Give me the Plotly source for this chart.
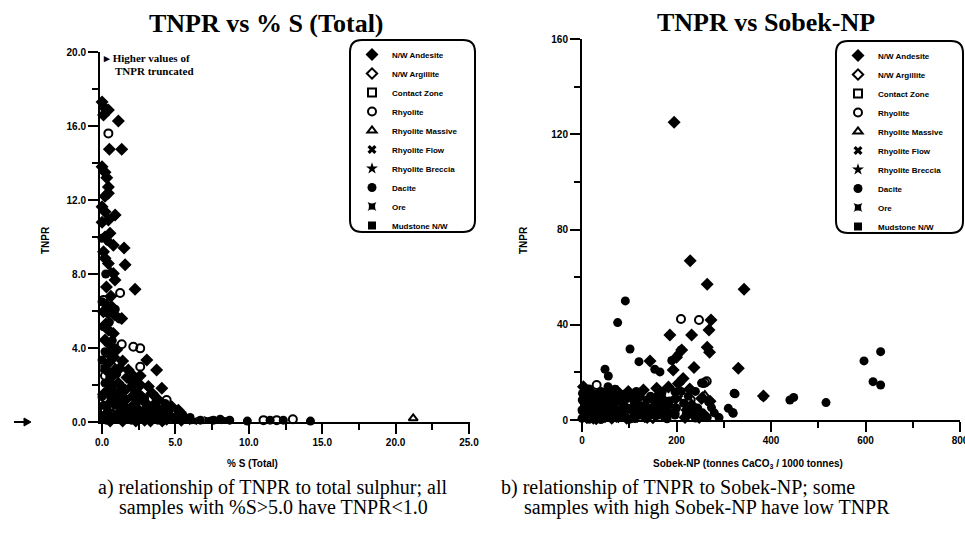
import plotly.graph_objects as go

W, H = 965, 548

# ---------------- data ----------------
CATEGORIES = ["N/W Andesite", "N/W Argillite", "Contact Zone", "Rhyolite", "Rhyolite Massive",
              "Rhyolite Flow", "Rhyolite Breccia", "Dacite", "Ore", "Mudstone N/W"]

# Left: % S (Total) vs TNPR
S_ANDESITE = [(0.0, 17.3), (0.2, 16.96), (0.43, 16.86), (0.1, 16.6), (1.11, 16.27), (0.5, 14.74), (1.34, 14.74),
              (0.0, 13.8), (0.2, 13.5), (0.32, 13.2), (0.43, 12.7), (0.43, 12.36), (0.2, 12.2), (0.0, 11.64),
              (0.2, 11.36), (0.89, 11.19), (0.43, 10.92), (0.0, 10.8), (0.54, 10.2), (0.2, 10.0), (0.77, 9.56),
              (1.57, 8.5), (1.5, 9.4), (0.2, 8.85), (0.43, 8.57), (0.77, 8.03), (0.88, 7.67), (2.25, 7.17),
              (0.32, 6.32), (0.66, 6.23), (0.09, 5.96), (0.43, 5.87), (0.88, 5.78), (0.43, 4.97), (0.77, 4.79),
              (0.2, 4.43), (0.54, 4.16), (0.43, 3.7), (1.34, 5.6), (3.05, 3.35), (3.72, 2.81), (2.3, 2.2),
              (4.07, 1.82), (0.43, 3.17), (0.88, 2.81), (1.79, 2.81), (1.11, 2.1), (0.66, 2.45), (0.43, 1.73),
              (0.88, 1.55), (1.57, 1.73), (2.02, 1.92), (2.25, 2.1), (3.16, 1.92), (2.7, 1.37), (3.4, 1.55),
              (3.84, 1.19), (4.75, 0.83), (5.2, 0.64), (1.0, 1.0), (1.5, 0.83), (2.5, 0.64), (3.0, 1.0),
              (3.5, 0.9), (4.2, 0.45), (4.6, 0.36), (0.6, 0.27), (0.3, 0.45), (1.2, 0.5), (1.8, 0.3),
              (2.8, 0.55), (3.3, 0.6), (3.9, 0.4), (5.0, 0.25), (0.1, 1.5), (0.7, 2.0), (1.6, 1.2), (2.1, 1.4),
              (0.3, 7.3), (0.1, 9.2), (0.6, 6.8), (0.25, 5.3), (1.0, 3.9), (1.4, 3.3), (2.0, 2.6), (2.6, 2.0),
              (1.2, 2.9), (1.7, 2.4), (2.6, 2.5), (0.3, 2.8), (0.8, 3.5), (1.1, 0.25), (2.0, 0.8), (2.9, 0.1),
              (3.7, 0.7), (4.4, 0.15), (5.4, 0.1), (0.55, 0.05), (1.4, 0.05), (2.3, 0.05), (3.3, 0.05), (4.1, 0.05)]
S_ARGILLITE = [(0.7, 3.0), (1.9, 1.1)]
S_CONTACT = [(0.2, 0.55), (2.8, 0.9)]
S_RHYOLITE = [(0.43, 15.6), (1.23, 6.97), (1.34, 4.2), (2.13, 4.07), (2.6, 3.98), (2.6, 2.99), (4.4, 1.19),
              (0.32, 3.35), (1.22, 5.59), (0.2, 2.5), (11.0, 0.1), (11.9, 0.1), (13.0, 0.15), (0.1, 0.3),
              (1.8, 0.2), (3.5, 0.5), (0.1, 6.6)]
S_MASSIVE = [(21.2, 0.2), (0.6, 8.1), (5.8, 0.1), (3.2, 0.35)]
S_FLOW = [(0.9, 0.5), (2.2, 0.7)]
S_BRECCIA = [(0.3, 0.8), (1.4, 0.15)]
S_DACITE = [(0.0, 6.5), (0.43, 9.75), (0.2, 10.0), (0.0, 9.93), (0.1, 5.15), (0.0, 3.35), (0.2, 2.1),
            (0.0, 1.37), (0.5, 1.0), (1.5, 0.4), (2.5, 0.3), (3.0, 0.2), (4.0, 0.25), (5.65, 0.2), (6.7, 0.1),
            (7.6, 0.1), (8.05, 0.15), (8.7, 0.1), (9.9, 0.05), (11.45, 0.1), (12.35, 0.1), (14.2, 0.05),
            (0.3, 0.1), (0.8, 0.2), (2.0, 0.1), (3.8, 0.1), (4.9, 0.2), (1.1, 1.6),
            (0.5, 2.3), (1.0, 2.6), (1.3, 1.9), (1.9, 2.3), (2.4, 1.6), (2.9, 1.3), (3.6, 1.4), (4.3, 1.0),
            (4.0, 0.7), (3.4, 0.3), (2.7, 0.2), (2.2, 0.5), (1.6, 0.7), (0.9, 0.9), (0.4, 0.6), (0.1, 0.9),
            (0.6, 1.3), (1.3, 1.3), (2.4, 1.1), (3.1, 0.75), (4.5, 0.6), (5.5, 0.4), (6.0, 0.25), (0.2, 3.8),
            (0.7, 4.4), (0.5, 5.4), (0.9, 6.1), (0.25, 8.0)]
S_ORE = [(6.2, 0.05), (7.2, 0.1), (8.4, 0.1)]
S_MUDSTONE = [(0.05, 0.2), (0.15, 2.9)]

# Right: Sobek-NP vs TNPR
N_ANDESITE = [(195, 125), (229, 66.9), (265, 57), (343, 54.9), (273, 42), (268.8, 37.8), (186, 35.7), (232, 35.7),
              (265, 30.6), (270, 28.5), (143.9, 24.8), (237, 22), (330.8, 21.7), (384, 10.1), (211, 29.4),
              (200, 26.3), (193, 21), (214, 17.4), (204, 15.3), (183, 13.9), (130, 12.6), (158, 13.3),
              (165, 10.5), (172, 8.4), (161, 6.3), (232, 6.3), (222, 4.2), (91, 5.6), (105, 4.2), (112, 6.3),
              (13.4, 10.5), (27.5, 7), (41.6, 9.1), (55.7, 10.5), (69.8, 7.7), (55.7, 4.2), (34.6, 2.8),
              (20.5, 4.2), (13.4, 6.3), (77, 1.4), (94.5, 0.7), (48.7, 1.4), (112, 1.4), (133, 1.4), (154, 2.1),
              (24, 0.7), (63, 0.7), (271, 7.9), (253, 9), (5, 3), (10, 1), (30, 0.5), (45, 5), (80, 3),
              (120, 3.5), (140, 4.5), (176, 5.6), (183, 3.5), (60, 8), (75, 12),
              (8, 9), (18, 2), (38, 3), (52, 12), (68, 10), (88, 4), (98, 12), (118, 9), (138, 1), (155, 9),
              (168, 3), (198, 9), (218, 1), (228, 13), (248, 1), (62, 5), (73, 1.5), (22, 11), (3, 14)]
N_ARGILLITE = [(150, 1.0), (35, 9.5)]
N_CONTACT = [(85, 2.0)]
N_RHYOLITE = [(31, 14.7), (209.5, 42.4), (247.6, 42), (260, 15.7), (269, 7.7), (264, 16.3), (20, 6),
              (100, 3), (170, 3.5), (230, 8.5)]
N_MASSIVE = [(255.7, 9.8), (260, 10.4)]
N_FLOW = [(150, 7), (205, 9)]
N_BRECCIA = [(50, 3), (190, 6)]
N_DACITE = [(91.7, 50), (75.5, 40.9), (101.6, 29.8), (209.5, 29.4), (203, 27.2), (190, 25), (120.6, 24.5),
            (154, 21.3), (165, 20.2), (48.7, 21.3), (55.7, 18.5), (383.7, 9.8), (440, 8.4), (448, 9.5),
            (516.4, 7.3), (596.8, 24.8), (632, 28.7), (616, 16.1), (632, 14.7), (322, 11.2), (309.7, 4.9),
            (319, 3.2), (196.8, 2.1), (221, 2.8), (235, 2.8), (253, 15.5), (69.8, 12.9), (91, 10.9),
            (126, 11.9), (123, 10.5), (137, 8.4), (197, 11.8), (257, 15.3), (274, 5.2), (236, 2.8), (197, 2.8),
            (148, 2.8), (0.5, 8.4), (0, 4.2), (6.3, 2.1), (1, 11.2), (0, 0.7), (320, 2.8), (324, 11), (15, 0.3),
            (40, 0.2), (100, 0.3), (180, 0.5), (240, 0.8), (260, 2.0),
            (10, 5), (25, 9), (40, 12), (55, 14), (65, 3), (85, 7), (95, 9), (110, 8), (120, 2), (135, 5),
            (145, 10), (160, 2), (175, 1), (190, 3), (200, 5), (210, 12), (215, 7), (225, 10), (245, 5),
            (255, 3), (265, 1), (15, 13), (35, 5), (50, 7), (70, 5), (90, 2), (105, 10), (125, 6), (150, 4),
            (170, 12), (185, 8), (5, 7), (30, 11), (45, 1), (60, 2), (80, 10), (115, 12), (240, 12), (280, 3),
            (290, 1)]
N_ORE = [(70, 1.0)]
N_MUDSTONE = [(110, 0.5)]

LEFT_SERIES = [S_ANDESITE, S_ARGILLITE, S_CONTACT, S_RHYOLITE, S_MASSIVE, S_FLOW, S_BRECCIA, S_DACITE, S_ORE, S_MUDSTONE]
RIGHT_SERIES = [N_ANDESITE, N_ARGILLITE, N_CONTACT, N_RHYOLITE, N_MASSIVE, N_FLOW, N_BRECCIA, N_DACITE, N_ORE, N_MUDSTONE]

LEFT_XTICKS = [0, 5, 10, 15, 20, 25]
LEFT_XTICKTEXT = ["0.0", "5.0", "10.0", "15.0", "20.0", "25.0"]
LEFT_YTICKS = [0, 4, 8, 12, 16, 20]
LEFT_YTICKTEXT = ["0.0", "4.0", "8.0", "12.0", "16.0", "20.0"]
RIGHT_XTICKS = [0, 200, 400, 600, 800]
RIGHT_YTICKS = [0, 40, 80, 120, 160]

# ---------------- styling ----------------
SYMBOLS = ["diamond", "diamond-open", "square-open", "circle-open", "triangle-up-open",
           "x", "star", "circle", "star-square", "square"]
SIZES = [10, 8, 8, 8, 8, 8, 9, 9, 8, 8]

def px_x(p):
    return p / W

def px_y(p):
    return 1 - p / H

fig = go.Figure()

for i, name in enumerate(CATEGORIES):
    for series, xa, ya, lg in [(LEFT_SERIES[i], "x", "y", "legend"), (RIGHT_SERIES[i], "x2", "y2", "legend2")]:
        xs = [p[0] for p in series]
        ys = [p[1] for p in series]
        fig.add_trace(go.Scatter(
            x=xs, y=ys, mode="markers", name=name, xaxis=xa, yaxis=ya, legend=lg,
            cliponaxis=False,
            marker=dict(symbol=SYMBOLS[i], size=SIZES[i], color="black",
                        line=dict(color="black", width=2 if "open" in SYMBOLS[i] else 0)),
        ))

tickfont = dict(family="Liberation Sans", size=10, color="black", weight="bold")
axis_common = dict(showline=True, linewidth=2, linecolor="black", showgrid=False, zeroline=False,
                   automargin=False, ticklabeloverflow="allow",
                   ticks="outside", ticklen=10, tickwidth=2, tickcolor="black", tickfont=tickfont)

fig.update_layout(
    template="none",
    width=W, height=H, margin=dict(l=0, r=0, t=0, b=0, autoexpand=False),
    paper_bgcolor="white", plot_bgcolor="white",
    xaxis=dict(domain=[px_x(100), px_x(470)], range=[-0.14, 25.07], anchor="y",
               tickvals=LEFT_XTICKS, ticktext=LEFT_XTICKTEXT,
               minor=dict(ticks="outside", ticklen=6, tickwidth=2, tickcolor="black", dtick=2.5, showgrid=False),
               **axis_common),
    yaxis=dict(domain=[px_y(422), px_y(52)], range=[0, 20], anchor="x",
               tickvals=LEFT_YTICKS, ticktext=LEFT_YTICKTEXT,
               minor=dict(ticks="outside", ticklen=6, tickwidth=2, tickcolor="black", dtick=2, showgrid=False),
               **axis_common),
    xaxis2=dict(domain=[px_x(582), px_x(960)], range=[0, 800], anchor="y2",
                tickvals=RIGHT_XTICKS,
                minor=dict(ticks="outside", ticklen=6, tickwidth=2, tickcolor="black", dtick=100, showgrid=False),
                **axis_common),
    yaxis2=dict(domain=[px_y(420), px_y(39)], range=[0, 160], anchor="x2",
                tickvals=RIGHT_YTICKS,
                minor=dict(ticks="outside", ticklen=6, tickwidth=2, tickcolor="black", dtick=20, showgrid=False),
                **axis_common),
    legend=dict(x=px_x(352), y=px_y(40), xanchor="left", yanchor="top", bgcolor="rgba(0,0,0,0)",
                font=dict(family="Liberation Sans", size=8, color="black", weight="bold"),
                tracegroupgap=0, itemclick=False, borderwidth=0),
    legend2=dict(x=px_x(838), y=px_y(41), xanchor="left", yanchor="top", bgcolor="rgba(0,0,0,0)",
                 font=dict(family="Liberation Sans", size=8, color="black", weight="bold"),
                 tracegroupgap=0, itemclick=False, borderwidth=0),
)

def rounded_rect(x0, y0, x1, y1, r):
    # pixel coords -> paper path
    def P(x, y):
        return f"{px_x(x)},{px_y(y)}"
    return (f"M {P(x0 + r, y0)} L {P(x1 - r, y0)} Q {P(x1, y0)} {P(x1, y0 + r)} "
            f"L {P(x1, y1 - r)} Q {P(x1, y1)} {P(x1 - r, y1)} L {P(x0 + r, y1)} "
            f"Q {P(x0, y1)} {P(x0, y1 - r)} L {P(x0, y0 + r)} Q {P(x0, y0)} {P(x0 + r, y0)} Z")

fig.add_shape(type="path", path=rounded_rect(350, 40, 475, 232, 12), xref="paper", yref="paper",
              line=dict(color="black", width=2))
fig.add_shape(type="path", path=rounded_rect(836, 41, 963, 233, 12), xref="paper", yref="paper",
              line=dict(color="black", width=2))

# small stray arrow at left edge
fig.add_shape(type="line", x0=px_x(14), x1=px_x(27), y0=px_y(422), y1=px_y(422), xref="paper", yref="paper",
              line=dict(color="black", width=2))
fig.add_shape(type="path", path=f"M {px_x(24)},{px_y(418)} L {px_x(31)},{px_y(422)} L {px_x(24)},{px_y(426)} Z",
              xref="paper", yref="paper", fillcolor="black", line=dict(color="black", width=1))

serif = "Liberation Serif"
ann = []
ann.append(dict(text="<b>TNPR vs % S (Total)</b>", x=px_x(266), y=px_y(24), font=dict(family=serif, size=26)))
ann.append(dict(text="<b>TNPR vs Sobek-NP</b>", x=px_x(766), y=px_y(23), font=dict(family=serif, size=26)))
ann.append(dict(text="<b>TNPR</b>", x=px_x(45), y=px_y(240), textangle=-90, font=dict(family="Liberation Sans", size=10)))
ann.append(dict(text="<b>TNPR</b>", x=px_x(523), y=px_y(240), textangle=-90, font=dict(family="Liberation Sans", size=10)))
ann.append(dict(text="<b>% S (Total)</b>", x=px_x(252), y=px_y(463), font=dict(family="Liberation Sans", size=10)))
ann.append(dict(text="<b>Sobek-NP (tonnes CaCO<sub>3</sub> / 1000 tonnes)</b>", x=px_x(748), y=px_y(464),
                font=dict(family="Liberation Sans", size=10)))
ann.append(dict(text="a) relationship of TNPR to total sulphur; all", x=px_x(272), y=px_y(487),
                font=dict(family=serif, size=20)))
ann.append(dict(text="samples with %S&gt;5.0 have TNPR&lt;1.0", x=px_x(273), y=px_y(507),
                font=dict(family=serif, size=20)))
ann.append(dict(text="b) relationship of TNPR to Sobek-NP; some", x=px_x(499), y=px_y(487), xanchor="left",
                font=dict(family=serif, size=20)))
ann.append(dict(text="samples with high Sobek-NP have low TNPR", x=px_x(522), y=px_y(507), xanchor="left",
                font=dict(family=serif, size=20)))
ann.append(dict(text="<b>▸ Higher values of</b>", x=px_x(101), y=px_y(58), xanchor="left",
                font=dict(family=serif, size=11)))
ann.append(dict(text="<b>TNPR truncated</b>", x=px_x(113), y=px_y(71), xanchor="left",
                font=dict(family=serif, size=11)))
for a in ann:
    a.setdefault("xanchor", "center")
    a.update(xref="paper", yref="paper", showarrow=False, yanchor="middle")
    a["font"]["color"] = "black"
    fig.add_annotation(**a)

fig.write_html("out.html")
